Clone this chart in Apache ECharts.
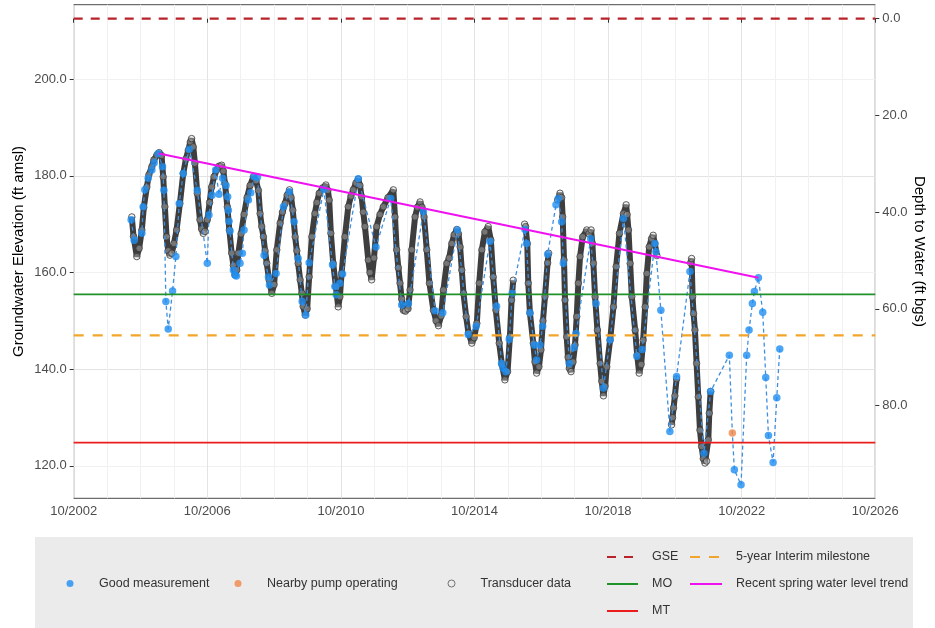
<!DOCTYPE html>
<html>
<head>
<meta charset="utf-8">
<script src="https://cdn.jsdelivr.net/npm/echarts@6/dist/echarts.min.js"></script>
<style>
  html, body { margin: 0; padding: 0; background: #ffffff; }
  #chart { width: 935px; height: 628px; }
</style>
</head>
<body>
<div id="chart"></div>
<script>
// Groundwater hydrograph: elevations in ft amsl, times in decimal years.
const GSE = 212.5;          // ground surface elevation
const MO = 155.5;           // measurable objective
const MT = 124.8;           // minimum threshold
const INTERIM = 147.0;      // 5-year interim milestone
const ELEV_RANGE = [113.3, 215.4];
const X_START = 2002.75;    // October 2002
const X_SPAN = 24;          // years shown
const elevTicks = [120, 140, 160, 180, 200];
const depthTicks = [0, 20, 40, 60, 80];

// Continuous transducer record; a null elevation marks a gap in logging.
const transducer = [
  [2004.49,171.5],[2004.54,167.5],[2004.64,163.3],[2004.71,165.0],[2004.79,168.8],[2004.85,173.5],[2004.94,177.7],
  [2005.00,180.2],[2005.09,181.9],[2005.15,183.3],[2005.24,184.3],[2005.31,184.8],[2005.38,184.2],[2005.43,179.8],
  [2005.48,173.6],[2005.53,167.4],[2005.58,164.5],[2005.63,163.6],[2005.69,164.0],[2005.75,166.0],[2005.83,168.8],
  [2005.93,174.3],[2006.03,180.5],[2006.11,183.5],[2006.18,185.3],[2006.24,187.0],[2006.28,187.7],[2006.33,186.0],
  [2006.38,182.6],[2006.45,176.4],[2006.53,170.9],[2006.58,169.0],[2006.63,168.1],[2006.68,168.5],[2006.75,170.9],
  [2006.82,174.5],[2006.88,177.7],[2006.95,179.8],[2007.03,181.2],[2007.10,182.0],[2007.18,182.2],[2007.23,181.0],
  [2007.28,178.4],[2007.35,173.6],[2007.41,168.8],[2007.48,164.0],[2007.53,161.5],[2007.58,159.5],[2007.63,160.5],
  [2007.68,164.0],[2007.76,168.0],[2007.85,172.0],[2007.94,175.5],[2008.03,178.0],[2008.13,179.8],[2008.21,179.0],
  [2008.28,177.0],[2008.33,172.2],[2008.38,169.5],[2008.43,167.4],[2008.48,164.5],[2008.53,161.9],[2008.60,158.5],
  [2008.68,155.7],[2008.75,157.5],[2008.83,164.7],[2008.93,170.2],[2009.00,172.5],[2009.08,174.3],[2009.14,176.0],
  [2009.21,177.1],[2009.26,175.5],[2009.31,172.9],[2009.38,167.4],[2009.43,164.5],[2009.47,161.9],[2009.53,158.5],
  [2009.58,155.7],[2009.62,153.0],[2009.68,151.2],[2009.74,152.5],[2009.80,159.1],[2009.88,167.4],[2009.97,172.2],
  [2010.03,174.5],[2010.10,176.4],[2010.20,177.5],[2010.30,178.1],[2010.36,177.0],[2010.40,175.0],[2010.45,168.1],
  [2010.52,161.9],[2010.60,157.1],[2010.67,152.9],[2010.72,155.0],[2010.77,159.8],[2010.87,167.4],[2010.97,173.6],
  [2011.05,175.8],[2011.12,177.1],[2011.20,178.5],[2011.27,179.3],[2011.32,178.0],[2011.37,175.7],[2011.42,172.5],
  [2011.47,169.5],[2011.57,162.6],[2011.62,160.0],[2011.67,158.5],[2011.74,163.0],[2011.82,169.5],[2011.92,172.0],
  [2012.02,173.6],[2012.16,175.5],[2012.32,177.1],[2012.37,171.5],[2012.42,164.7],[2012.47,161.0],[2012.52,157.8],
  [2012.57,154.5],[2012.62,152.2],[2012.68,152.0],[2012.76,152.5],[2012.82,156.4],[2012.87,164.7],[2012.97,171.5],
  [2013.04,173.5],[2013.12,174.6],[2013.18,173.5],[2013.24,171.5],[2013.32,164.7],[2013.40,157.8],[2013.52,152.2],
  [2013.60,150.0],[2013.67,149.0],[2013.75,151.0],[2013.82,156.4],[2013.92,161.9],[2013.99,163.0],[2014.07,166.0],
  [2014.14,167.8],[2014.22,168.9],[2014.27,168.0],[2014.32,165.3],[2014.37,160.5],[2014.42,155.7],[2014.50,150.9],
  [2014.57,147.5],[2014.67,145.4],[2014.74,146.5],[2014.82,149.5],[2014.89,157.8],[2014.97,164.7],[2015.06,168.4],
  [2015.16,169.5],[2015.24,166.7],[2015.31,159.1],[2015.39,152.2],[2015.49,145.4],[2015.57,141.0],[2015.66,137.8],
  [2015.74,139.5],[2015.81,146.7],[2015.86,154.3],[2015.91,158.4],[2016.05,null],
  [2016.25,170.0],[2016.28,169.5],[2016.33,166.0],[2016.36,157.8],[2016.41,151.6],[2016.51,145.4],[2016.56,141.5],
  [2016.61,139.2],[2016.68,140.5],[2016.74,144.0],[2016.80,150.0],[2016.86,155.0],[2016.94,162.0],[2016.97,164.0],
  [2017.10,null],
  [2017.24,175.0],[2017.31,176.4],[2017.36,175.5],[2017.39,171.5],[2017.43,162.6],[2017.46,154.3],[2017.51,146.7],
  [2017.55,142.5],[2017.59,140.2],[2017.64,139.5],[2017.70,141.5],[2017.76,145.0],[2017.81,150.9],[2017.86,157.8],
  [2017.91,163.3],[2017.99,167.4],[2018.11,168.8],[2018.18,168.0],[2018.24,168.8],[2018.28,166.0],[2018.31,161.9],
  [2018.36,155.0],[2018.43,148.1],[2018.51,141.2],[2018.56,137.5],[2018.61,134.5],[2018.66,136.5],[2018.71,140.5],
  [2018.81,146.0],[2018.91,152.9],[2018.99,161.2],[2019.09,168.1],[2019.21,172.2],[2019.29,174.0],[2019.32,172.0],
  [2019.36,168.8],[2019.41,161.9],[2019.46,155.0],[2019.56,148.1],[2019.62,143.0],[2019.68,139.2],[2019.74,141.0],
  [2019.80,146.0],[2019.86,152.9],[2019.91,159.8],[2019.98,165.3],[2020.05,167.0],[2020.10,167.7],[2020.15,166.0],
  [2020.21,163.5],[2020.40,null],
  [2020.65,128.5],[2020.68,130.0],[2020.71,132.0],[2020.75,134.5],[2020.80,138.0],[2021.00,null],
  [2021.22,162.0],[2021.25,162.9],[2021.28,155.0],[2021.31,151.5],[2021.35,148.1],[2021.40,141.2],[2021.45,134.3],
  [2021.50,127.4],[2021.55,124.0],[2021.60,121.5],[2021.65,120.6],[2021.70,121.0],[2021.75,125.4],[2021.78,130.9],
  [2021.82,135.4]
];

// Manual soundings flagged as good.
const goodMeasurements = [
  [2004.47,170.9],[2004.56,166.7],[2004.79,168.1],[2004.83,173.6],[2004.88,177.1],[2004.98,179.5],[2005.09,181.2],
  [2005.16,182.7],[2005.28,184.6],[2005.41,181.9],[2005.45,177.0],[2005.51,154.0],[2005.58,148.3],[2005.71,156.2],
  [2005.81,163.3],[2005.91,174.3],[2006.03,180.5],[2006.21,185.5],[2006.45,177.0],[2006.75,161.9],[2006.80,171.9],
  [2006.89,176.0],[2007.00,181.2],[2007.10,176.2],[2007.21,179.5],[2007.31,178.0],[2007.36,175.7],[2007.38,172.9],
  [2007.40,170.6],[2007.43,168.6],[2007.53,160.5],[2007.58,159.5],[2007.62,159.3],[2007.73,161.9],[2007.80,164.0],
  [2007.85,168.8],[2007.98,175.0],[2008.05,176.5],[2008.15,179.8],[2008.25,179.7],[2008.45,163.6],[2008.58,159.1],
  [2008.61,157.4],[2008.81,159.8],[2009.03,173.6],[2009.21,176.7],[2009.35,170.5],[2009.47,162.9],[2009.59,154.0],
  [2009.70,151.2],[2009.80,162.0],[2010.24,177.2],[2010.50,161.6],[2010.57,157.1],[2010.61,155.4],[2010.72,157.8],
  [2010.80,159.7],[2011.27,179.4],[2011.80,165.3],[2012.24,175.3],[2012.57,153.3],[2012.77,153.6],[2013.22,172.6],
  [2013.57,152.1],[2013.80,151.7],[2014.24,168.8],[2014.56,147.2],[2014.80,148.9],[2015.21,166.4],[2015.41,153.0],
  [2015.56,141.2],[2015.61,140.2],[2015.69,139.5],[2015.79,146.2],[2015.88,155.7],[2016.26,168.9],[2016.31,166.0],
  [2016.41,151.7],[2016.54,145.0],[2016.61,141.9],[2016.71,145.0],[2016.79,148.9],[2016.94,163.8],[2017.19,174.0],
  [2017.26,175.3],[2017.36,170.5],[2017.41,161.9],[2017.59,141.2],[2017.73,144.5],[2017.79,147.4],[2018.23,167.0],
  [2018.39,153.6],[2018.61,136.1],[2018.81,146.1],[2019.21,171.2],[2019.61,142.7],[2019.77,144.1],[2020.15,166.0],
  [2020.18,164.3],[2020.33,152.2],[2020.60,127.1],[2020.80,138.5],[2021.20,160.2],[2021.62,122.6],[2021.82,135.4],
  [2022.38,142.9],[2022.53,119.2],[2022.73,116.1],[2022.90,142.9],[2022.97,148.1],[2023.07,153.6],[2023.13,156.1],
  [2023.25,158.9],[2023.38,151.8],[2023.47,138.3],[2023.55,126.3],[2023.69,120.7],[2023.80,134.1],[2023.89,144.2]
];

// Soundings taken while a nearby pump was running.
const pumpMeasurements = [[2022.47,126.8]];

// Trend through recent spring highs (end points).
const springTrend = [[2005.30,184.6],[2023.25,158.9]];

// Years since Oct 2002 on the x axis.
const toX = yr => yr - X_START;
const asXY = arr => arr.map(p => [toX(p[0]), p[1]]);
const hline = v => [[0, v], [X_SPAN, v]];

const allSoundings = goodMeasurements.concat(pumpMeasurements).sort((a, b) => a[0] - b[0]);

const FONT = 'Liberation Sans, Arial, Helvetica, sans-serif';
const legendText = { color: '#333333', fontSize: 12.5, fontFamily: FONT };
const lineLegendText = { color: '#333333', fontSize: 12.5, fontFamily: FONT, padding: [0, 0, 0, 9], lineHeight: 14 };
// line legends show only the stroke, no marker
const hiddenMarker = { color: 'rgba(0,0,0,0)', borderWidth: 0, opacity: 0 };

const chart = echarts.init(document.getElementById('chart'), null, { renderer: 'canvas' });

chart.setOption({
  animation: false,
  backgroundColor: '#ffffff',
  textStyle: { fontFamily: FONT },
  grid: {
    left: 73.7, right: 59.7, top: 4.7, bottom: 129.7,
    show: true, borderColor: '#4a4a4a', borderWidth: 1, backgroundColor: '#ffffff',
    containLabel: false, outerBoundsMode: 'none'
  },
  graphic: [{
    type: 'rect', z: -10, silent: true,
    shape: { x: 35, y: 537, width: 878, height: 91 },
    style: { fill: '#ebebeb' }
  }],
  legend: [
    { data: ['Good measurement'], left: 66.5, top: 577, padding: 0, itemWidth: 48, itemHeight: 7,
      textStyle: legendText, selectedMode: false },
    { data: ['Nearby pump operating'], left: 234.5, top: 577, padding: 0, itemWidth: 48, itemHeight: 7,
      textStyle: legendText, selectedMode: false },
    { data: [{ name: 'Transducer data', icon: 'circle',
               itemStyle: { color: '#ebebeb', borderColor: '#555555', borderWidth: 1 } }],
      left: 447.5, top: 577, padding: 0, itemWidth: 48, itemHeight: 7,
      textStyle: legendText, selectedMode: false },
    { data: ['GSE', 'MO', 'MT'], orient: 'vertical', left: 606, top: 550, padding: 0,
      itemWidth: 31, itemHeight: 14, itemGap: 13, textStyle: lineLegendText, selectedMode: false,
      itemStyle: hiddenMarker },
    { data: ['5-year Interim milestone', 'Recent spring water level trend'], orient: 'vertical',
      left: 689, top: 550, padding: 0, itemWidth: 32, itemHeight: 14, itemGap: 13,
      textStyle: lineLegendText, selectedMode: false, itemStyle: hiddenMarker }
  ],
  xAxis: {
    type: 'value', min: 0, max: X_SPAN, interval: 4,
    axisLine: { show: false },
    axisTick: { show: true, length: 4, lineStyle: { color: '#333333' } },
    axisLabel: { color: '#4d4d4d', fontSize: 13, margin: 7, fontFamily: FONT,
                 formatter: v => '10/' + (2002 + v) },
    splitLine: { show: true, lineStyle: { color: '#e3e3e3', width: 1 } },
    minorTick: { show: false, splitNumber: 4 },
    minorSplitLine: { show: true, lineStyle: { color: '#f1f1f1', width: 1 } }
  },
  yAxis: [
    {
      type: 'value', min: ELEV_RANGE[0], max: ELEV_RANGE[1], interval: 10,
      name: 'Groundwater Elevation (ft amsl)', nameLocation: 'middle', nameGap: 47,
      nameMoveOverlap: false,
      nameTextStyle: { color: '#000000', fontSize: 15, fontFamily: FONT },
      axisLine: { show: false },
      axisTick: { show: true, length: 4, customValues: elevTicks, lineStyle: { color: '#333333' } },
      axisLabel: { color: '#4d4d4d', fontSize: 13, margin: 7, fontFamily: FONT,
                   customValues: elevTicks, formatter: v => v.toFixed(1) },
      splitLine: { show: true, lineStyle: { color: ['#f1f1f1', '#e3e3e3'], width: 1 } }
    },
    {
      type: 'value', position: 'right', inverse: true,
      min: GSE - ELEV_RANGE[1], max: GSE - ELEV_RANGE[0],
      name: 'Depth to Water (ft bgs)', nameLocation: 'middle', nameGap: 36, nameRotate: -90,
      nameMoveOverlap: false,
      nameTextStyle: { color: '#000000', fontSize: 15, fontFamily: FONT },
      axisLine: { show: false },
      axisTick: { show: true, length: 4, customValues: depthTicks, lineStyle: { color: '#333333' } },
      axisLabel: { color: '#4d4d4d', fontSize: 13, margin: 7, fontFamily: FONT,
                   customValues: depthTicks, formatter: v => v.toFixed(1) },
      splitLine: { show: false }
    }
  ],
  series: [
    { // dense transducer record rendered as a band of overlapping readings
      type: 'line', data: asXY(transducer), symbol: 'none', connectNulls: false, silent: true, z: 1,
      lineStyle: { color: '#3e3e3e', width: 6 }
    },
    {
      name: 'Transducer data', type: 'scatter', z: 2, silent: true,
      data: asXY(transducer.filter(p => p[1] !== null)),
      symbol: 'circle', symbolSize: 6.5,
      itemStyle: { color: 'rgba(215,215,215,0.45)', borderColor: '#383838', borderWidth: 1 }
    },
    { // dashed path joining the manual soundings
      type: 'line', data: asXY(allSoundings), symbol: 'none', silent: true, z: 3,
      lineStyle: { color: '#3f8fe0', width: 1.3, type: [4, 3] }
    },
    {
      name: 'Good measurement', type: 'scatter', data: asXY(goodMeasurements), z: 4,
      symbol: 'circle', symbolSize: 7.5, itemStyle: { color: '#1f8ef1' }
    },
    {
      name: 'Nearby pump operating', type: 'scatter', data: asXY(pumpMeasurements), z: 4,
      symbol: 'circle', symbolSize: 7.5, itemStyle: { color: '#f0874a' }
    },
    {
      name: 'GSE', type: 'line', data: hline(GSE), symbol: 'none', z: 5,
      itemStyle: { color: '#b8232a' },
      lineStyle: { color: '#b8232a', width: 2.3, type: [9, 8] }
    },
    {
      name: 'MO', type: 'line', data: hline(MO), symbol: 'none', z: 5,
      itemStyle: { color: '#21912a' },
      lineStyle: { color: '#21912a', width: 1.8 }
    },
    {
      name: 'MT', type: 'line', data: hline(MT), symbol: 'none', z: 5,
      itemStyle: { color: '#ea1c1c' },
      lineStyle: { color: '#ea1c1c', width: 1.8 }
    },
    {
      name: '5-year Interim milestone', type: 'line', data: hline(INTERIM), symbol: 'none', z: 5,
      itemStyle: { color: '#f3a52a' },
      lineStyle: { color: '#f3a52a', width: 2.3, type: [10, 9] }
    },
    {
      name: 'Recent spring water level trend', type: 'line', data: asXY(springTrend), symbol: 'none', z: 6,
      itemStyle: { color: '#ee12ee' },
      lineStyle: { color: '#ee12ee', width: 2 }
    }
  ]
});
</script>
</body>
</html>
